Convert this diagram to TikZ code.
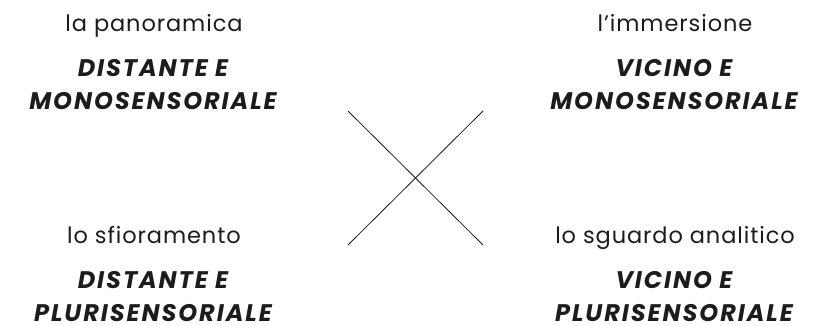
\documentclass[tikz,border=0pt]{standalone}
\usepackage{fontspec}
\setmainfont{Poppins}
\newfontfamily\capsfont[LetterSpace=8]{Poppins}
\newfontfamily\namefont[LetterSpace=4]{Poppins}
\definecolor{inkdark}{RGB}{28,28,28}
\tikzset{
  modename/.style={anchor=base, text=inkdark, inner sep=0pt,
    font=\namefont\fontsize{22.5}{26}\selectfont},
  modequal/.style={anchor=base, text=inkdark, inner sep=0pt, align=center,
    text depth=0pt, font=\capsfont\bfseries\itshape\fontsize{24}{32.5}\selectfont},
  crossline/.style={draw=inkdark, line width=0.8pt}
}
\begin{document}
\begin{tikzpicture}[x=1pt,y=1pt]
\useasboundingbox (0,0) rectangle (820,325);
% upper blocks:
\node[modename] (panor) at (154,294) {la panoramica};
\node[modequal] (panorq) at (153,216) {DISTANTE E\\MONOSENSORIALE};
\node[modename] (immers) at (675,294) {l’immersione};
\node[modequal] (immersq) at (674,216) {VICINO E\\MONOSENSORIALE};
% lower blocks:
\node[modename] (sfior) at (154,82) {lo sfioramento};
\node[modequal] (sfiorq) at (153,4) {DISTANTE E\\PLURISENSORIALE};
\node[modename] (sguard) at (675,82) {lo sguardo analitico};
\node[modequal] (sguardq) at (674,4) {VICINO E\\PLURISENSORIALE};
% the cross:
\coordinate (crossnw) at (348,214);
\coordinate (crossne) at (483,214);
\coordinate (crosssw) at (348,80);
\coordinate (crossse) at (483,80);
\draw[crossline] (crossnw) -- (crossse);
\draw[crossline] (crossne) -- (crosssw);
\end{tikzpicture}
\end{document}
